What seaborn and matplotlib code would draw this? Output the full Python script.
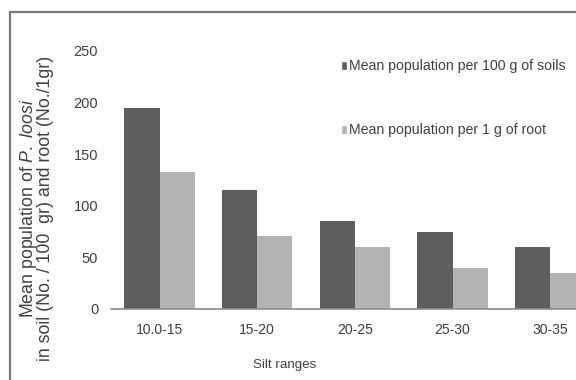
import matplotlib
matplotlib.use("Agg")
import matplotlib.pyplot as plt
import seaborn as sns
import pandas as pd
from matplotlib.patches import Rectangle, Patch

categories = ["10.0-15", "15-20", "20-25", "25-30", "30-35"]
soil_values = [195, 115, 85, 75, 60]
root_values = [133, 71, 60, 40, 35]
series_names = ["Mean population per 100 g of soils", "Mean population per 1 g of root"]
y_ticks = [0, 50, 100, 150, 200, 250]

df = pd.DataFrame({
    "Silt": categories * 2,
    "Value": soil_values + root_values,
    "Series": [series_names[0]] * len(categories) + [series_names[1]] * len(categories),
})

sns.set_theme(style="white")
plt.rcParams["font.family"] = ["Liberation Sans", "DejaVu Sans"]
plt.rcParams["mathtext.fontset"] = "custom"
plt.rcParams["mathtext.rm"] = "Liberation Sans"
plt.rcParams["mathtext.it"] = "Liberation Sans:italic"

W, H = 576, 380
fig = plt.figure(figsize=(W / 100, H / 100), dpi=100)
fig.patch.set_facecolor("white")

x0, x1 = 110.7, 599.0
y0, y1 = 309.0, 51.0
ax = fig.add_axes([x0 / W, 1 - y0 / H, (x1 - x0) / W, (y0 - y1) / H])

palette = ["#5e5e5e", "#b3b3b3"]
sns.barplot(data=df, x="Silt", y="Value", hue="Series", palette=palette,
            width=0.72, gap=0, linewidth=0, saturation=1, ax=ax, legend=False)

ax.set_xlim(-0.5, 4.5)
ax.set_ylim(0, 250)
ax.set_yticks(y_ticks)
ax.set_yticklabels([str(t) for t in y_ticks])
ax.set_xlabel("")
ax.set_ylabel("")
for s in ["top", "right", "left"]:
    ax.spines[s].set_visible(False)
ax.spines["bottom"].set_color("#8c8c8c")
ax.spines["bottom"].set_linewidth(1.2)
ax.tick_params(axis="y", length=0, labelsize=10.5, colors="#404040", pad=9)
ax.tick_params(axis="x", length=0, labelsize=10.1, colors="#404040", pad=10)
ax.patch.set_alpha(0)

handles = [Patch(facecolor=palette[0]), Patch(facecolor=palette[1])]
leg = fig.legend(handles, series_names, loc="upper left",
                 bbox_to_anchor=(341 / W, 1 - 59 / H), frameon=False,
                 fontsize=10.2, handlelength=0.45, handleheight=0.6,
                 handletextpad=0.12, labelspacing=3.55, borderpad=0,
                 borderaxespad=0)
for t in leg.get_texts():
    t.set_color("#404040")

fig.text(36 / W, 1 - 208 / H,
         "Mean population of $\\it{P.\\ loosi}$\nin soil (No. / 100  gr) and root (No./1gr)",
         rotation=90, ha="center", va="center", multialignment="center",
         fontsize=12.8, color="#404040", linespacing=0.82)
fig.text(285 / W, 1 - 365 / H, "Silt ranges", ha="center", va="center",
         fontsize=9.6, color="#404040")

fig.patches.append(Rectangle((10 / W, -0.1), 1.2, 1 - 12 / H + 0.1,
                             transform=fig.transFigure, fill=False,
                             edgecolor="#7a7a7a", linewidth=1.6))

fig.savefig("out.png", dpi=100)
